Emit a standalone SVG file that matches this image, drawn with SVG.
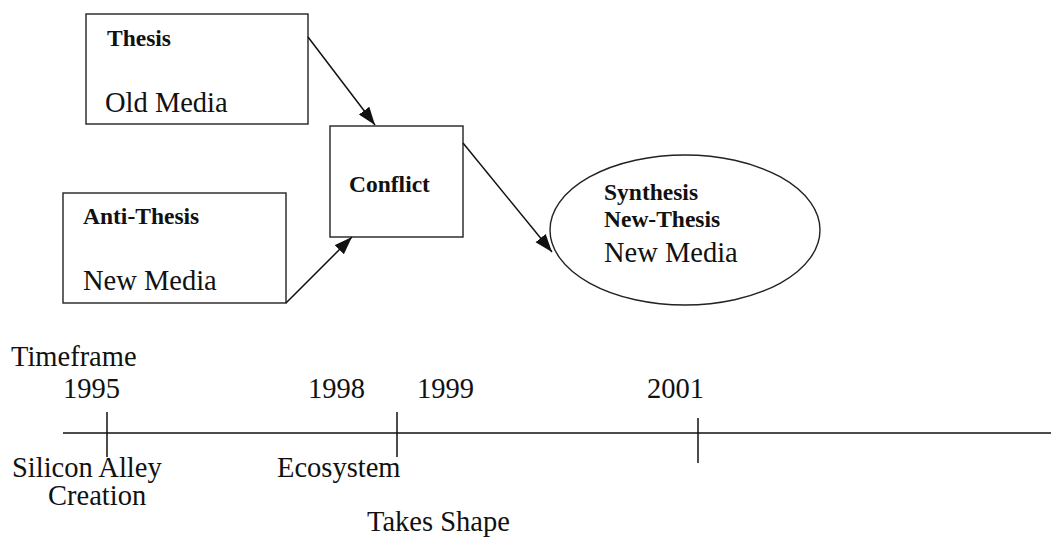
<svg xmlns="http://www.w3.org/2000/svg" width="1051" height="539" viewBox="0 0 1051 539" font-family="Liberation Serif, Times New Roman, serif">
<style>
.box{fill:#fff;stroke:#222;stroke-width:1.4}
.conn{stroke:#111;stroke-width:1.5;fill:none}
.b{font-weight:bold;font-size:23.5px;fill:#111}
.r{font-weight:normal;font-size:28.5px;fill:#111}
.tl{stroke:#111;stroke-width:1.5}
</style>
<defs>
<marker id="ah" markerUnits="userSpaceOnUse" markerWidth="20" markerHeight="14" refX="18" refY="6.5" orient="auto">
<path d="M0,0 L18,6.5 L0,13 z" fill="#111"/>
</marker>
</defs>
<rect width="1051" height="539" fill="#fff"/>
<g id="thesis">
<rect class="box" x="86" y="14" width="222" height="110"/>
<text class="b" x="107" y="46">Thesis</text>
<text class="r" x="105" y="112">Old Media</text>
</g>
<g id="antithesis">
<rect class="box" x="63" y="193" width="223" height="110"/>
<text class="b" x="83" y="224">Anti-Thesis</text>
<text class="r" x="83" y="290">New Media</text>
</g>
<g id="conflict">
<rect class="box" x="330" y="126" width="133" height="111"/>
<text class="b" x="349" y="192">Conflict</text>
</g>
<g id="synthesis">
<ellipse class="box" cx="685" cy="230" rx="135" ry="75"/>
<text class="b" x="604" y="200">Synthesis</text>
<text class="b" x="604" y="227">New-Thesis</text>
<text class="r" x="604" y="262">New Media</text>
</g>
<g id="connectors">
<line class="conn" x1="308" y1="37" x2="375" y2="125" marker-end="url(#ah)"/>
<line class="conn" x1="286" y1="303" x2="352" y2="237" marker-end="url(#ah)"/>
<line class="conn" x1="463" y1="143" x2="552" y2="252" marker-end="url(#ah)"/>
</g>
<g id="timeline">
<line class="tl" x1="63" y1="433" x2="1051" y2="433"/>
<line class="tl" x1="107" y1="412" x2="107" y2="457"/>
<line class="tl" x1="397" y1="412" x2="397" y2="457"/>
<line class="tl" x1="698" y1="418" x2="698" y2="463"/>
<text class="r" x="11" y="366">Timeframe</text>
<text class="r" x="63" y="398">1995</text>
<text class="r" x="308" y="398">1998</text>
<text class="r" x="417" y="398">1999</text>
<text class="r" x="647" y="398">2001</text>
<text class="r" x="12" y="477">Silicon Alley</text>
<text class="r" x="48" y="505">Creation</text>
<text class="r" x="277" y="477">Ecosystem</text>
<text class="r" x="367" y="531">Takes Shape</text>
</g>
</svg>
